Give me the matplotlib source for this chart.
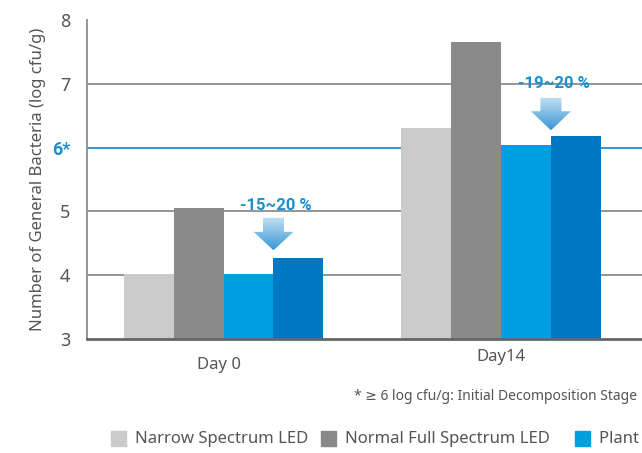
import numpy as np
import matplotlib
matplotlib.use('Agg')
import matplotlib.pyplot as plt
import matplotlib.transforms as mtransforms
from matplotlib.patches import Polygon, Rectangle

plt.rcParams['font.family'] = ['Noto Sans', 'DejaVu Sans']
BOLD = ['Roboto', 'DejaVu Sans']

days = ['Day 0', 'Day14']
series = ['Narrow Spectrum LED', 'Normal Full Spectrum LED', 'Plant Spectrum LED', 'Plant Spectrum LED II']
colors = ['#c9cac9', '#8a8a8a', '#009fe3', '#0079c2']
narrow = [4.02, 6.31]
normal = [5.05, 7.66]
plant_a = [4.02, 6.04]
plant_b = [4.27, 6.18]
reductions = ['-15~20 %', '-19~20 %']
threshold = 6

values = [narrow, normal, plant_a, plant_b]
blue = '#1a8fd0'

fig = plt.figure(figsize=(6.42, 4.53), dpi=100)
ax = fig.add_axes([87/642, 1-339/453, 1-87/642, 319/453])

x = np.arange(len(days))
w = 0.18
for i, v in enumerate(values):
    ax.bar(x + (i-1.5)*w, v, w, color=colors[i], zorder=3, bottom=0)

for yv in [4, 5, 7]:
    ax.axhline(yv, color='#8c8c8c', lw=1.3, zorder=1)
ax.axhline(threshold, color=blue, lw=1.3, zorder=1)

ax.set_yticks([3, 4, 5, 6, 7, 8])
ax.set_yticklabels(['3', '4', '5', '6*', '7', '8'], fontsize=13, color='#555555')
lab6 = ax.get_yticklabels()[3]
lab6.set_color(blue)
lab6.set_family(BOLD)
lab6.set_fontweight('bold')
lab6.set_fontsize(13)
ax.tick_params(axis='y', length=0, pad=12)
ax.set_xticks(x)
ax.set_xticklabels([])
ax.tick_params(axis='x', length=0)
# day labels sit at slightly different heights in the source
trans = mtransforms.blended_transform_factory(ax.transData, ax.transAxes)
ax.text(x[0] - 0.016, -0.0815, days[0], transform=trans, fontsize=12, color='#555555',
        ha='center', va='center')
ax.text(x[1], -0.0564, days[1], transform=trans, fontsize=12, color='#555555',
        ha='center', va='center')
ax.set_ylabel('Number of General Bacteria (log cfu/g)', fontsize=12, color='#555555', labelpad=4)

for s in ['top', 'right']:
    ax.spines[s].set_visible(False)
ax.spines['left'].set_color('#8c8c8c')
ax.spines['left'].set_linewidth(1.3)
ax.spines['bottom'].set_color('#666666')
ax.spines['bottom'].set_linewidth(2)
ax.spines['bottom'].set_zorder(4)

# gradient arrows
grad = np.linspace(0, 1, 100).reshape(-1, 1)
cmap = matplotlib.colors.LinearSegmentedColormap.from_list('arr', ['#c4e0f3', '#3997d5'])
arrows = [(0.18, 4.90, 4.68, 4.39, 5.10), (1.18, 6.78, 6.57, 6.27, 7.01)]
for k, (cx, top, mid, tip, ty) in enumerate(arrows):
    sw, hw = 0.038, 0.072
    pts = [(cx-sw, top), (cx+sw, top), (cx+sw, mid), (cx+hw, mid), (cx, tip), (cx-hw, mid), (cx-sw, mid)]
    poly = Polygon(pts, closed=True, facecolor='none', edgecolor='none', zorder=5)
    ax.add_patch(poly)
    im = ax.imshow(grad, cmap=cmap, extent=[cx-hw, cx+hw, tip, top], aspect='auto', zorder=5)
    im.set_clip_path(poly)
    ax.text(cx + 0.01, ty, reductions[k], color=blue, fontsize=12, fontweight='bold',
            family=BOLD, ha='center', va='center', zorder=6)
ax.set_xlim(-0.492, 1.508)
ax.set_ylim(3, 8)

fig.text(637/642, 1-396/453, '* \u2265 6 log cfu/g: Initial Decomposition Stage', fontsize=10,
         color='#555555', ha='right', va='center')

# legend row, cut at the right edge like the source
leg_x = [111, 321, 575]
for i in range(3):
    fig.patches.append(Rectangle((leg_x[i]/642, 1-446/453), 15/642, 15/453, color=colors[i],
                                 transform=fig.transFigure, figure=fig))
    fig.text((leg_x[i]+24)/642, 1-439/453, series[i], fontsize=12, color='#555555', va='center')

fig.savefig('out.png', dpi=100)
